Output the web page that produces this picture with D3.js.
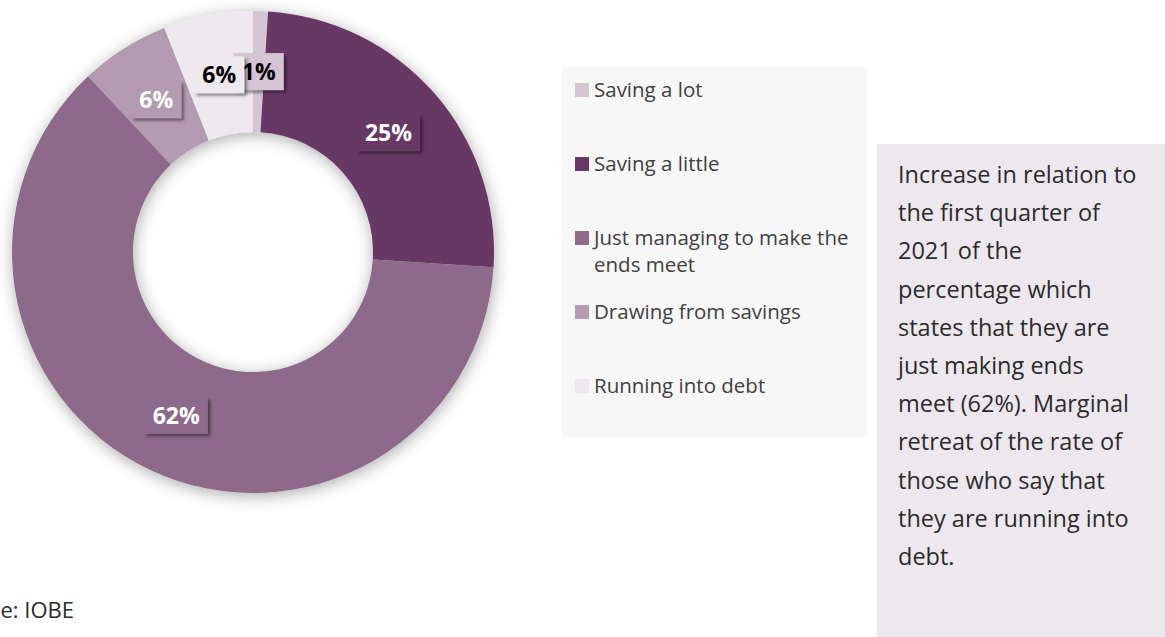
<!DOCTYPE html>
<html>
<head>
<meta charset="utf-8">
<script src="https://cdn.jsdelivr.net/npm/d3@7"></script>
<style>
  html, body { margin: 0; padding: 0; background: #ffffff; }
  svg { display: block; }
</style>
</head>
<body>
<svg id="chart" width="1165" height="637"></svg>
<script>
// ---- data ----
const categories = ["Saving a lot", "Saving a little", "Just managing to make the ends meet", "Drawing from savings", "Running into debt"];
const values = [1, 25, 62, 6, 6];
const colors = ["#d4c4d4", "#683965", "#8d6b89", "#b39bb1", "#eee8ef"];
const labelColors = ["#000000", "#ffffff", "#ffffff", "#ffffff", "#000000"];
const noteLines = [
  "Increase in relation to",
  "the first quarter of",
  "2021 of the",
  "percentage which",
  "states that they are",
  "just making ends",
  "meet (62%). Marginal",
  "retreat of the rate of",
  "those who say that",
  "they are running into",
  "debt."
];
const sourceText = "Source: IOBE";

const svg = d3.select("#chart");
const defs = svg.append("defs");

const ringShadow = defs.append("filter").attr("id", "ringShadow")
  .attr("x", "-20%").attr("y", "-20%").attr("width", "140%").attr("height", "140%");
ringShadow.append("feDropShadow").attr("dx", 1).attr("dy", 3)
  .attr("stdDeviation", 8).attr("flood-color", "#000").attr("flood-opacity", 0.33);

const boxShadow = defs.append("filter").attr("id", "boxShadow")
  .attr("x", "-30%").attr("y", "-30%").attr("width", "160%").attr("height", "160%");
boxShadow.append("feDropShadow").attr("dx", 2.5).attr("dy", 2.5)
  .attr("stdDeviation", 1.5).attr("flood-color", "#000").attr("flood-opacity", 0.45);

// ---- donut ----
const cx = 253, cy = 252, R = 241, r = 120;
const pie = d3.pie().sort(null).value(d => d)(values);
const arc = d3.arc().innerRadius(r).outerRadius(R);
const labelArc = d3.arc().innerRadius(r).outerRadius(R);

const g = svg.append("g").attr("transform", `translate(${cx},${cy})`);
const ring = g.append("g").attr("filter", "url(#ringShadow)");
ring.selectAll("path").data(pie).join("path")
  .attr("d", arc)
  .attr("fill", (d, i) => colors[i]);

const labels = g.append("g");
pie.forEach((d, i) => {
  const [lx, ly] = labelArc.centroid(d);
  const lg = labels.append("g").attr("transform", `translate(${lx},${ly})`);
  const rect = lg.append("rect").attr("fill", colors[i]).attr("filter", "url(#boxShadow)");
  const t = lg.append("text")
    .attr("text-anchor", "middle")
    .attr("dy", "0.36em")
    .style("font-family", "'Open Sans', sans-serif")
    .style("font-weight", "bold")
    .style("font-size", "23px")
    .attr("fill", labelColors[i])
    .text(d3.format(".0%")(values[i] / 100));
  const bb = t.node().getBBox();
  rect.attr("x", -bb.width / 2 - 8).attr("y", -18.5).attr("width", bb.width + 16).attr("height", 37);
});

// ---- legend ----
const legend = svg.append("g");
legend.append("rect").attr("x", 562).attr("y", 67).attr("width", 305).attr("height", 370).attr("fill", "#f7f7f7");
const legendY = d3.scaleLinear().domain([0, 1]).range([97, 171]);
const maxW = 255;
categories.forEach((c, i) => {
  const y = legendY(i);
  legend.append("rect").attr("x", 575).attr("y", y - 14).attr("width", 14).attr("height", 14).attr("fill", colors[i]);
  const t = legend.append("text").attr("x", 594).attr("y", y)
    .style("font-family", "'Open Sans', sans-serif").style("font-size", "20.5px").attr("fill", "#404040");
  const words = c.split(" ");
  let line = [], lineNo = 0;
  let ts = t.append("tspan").attr("x", 594).attr("y", y);
  words.forEach(w => {
    line.push(w);
    ts.text(line.join(" "));
    if (ts.node().getComputedTextLength() > maxW && line.length > 1) {
      line.pop();
      ts.text(line.join(" "));
      line = [w];
      lineNo++;
      ts = t.append("tspan").attr("x", 594).attr("y", y + lineNo * 27).text(w);
    }
  });
});

// ---- note box ----
svg.append("rect").attr("x", 877).attr("y", 144).attr("width", 288).attr("height", 493).attr("fill", "#ede8ee");
const note = svg.append("text")
  .style("font-family", "'Open Sans', sans-serif").style("font-size", "23.5px").attr("fill", "#2b2b2b");
noteLines.forEach((l, i) => {
  note.append("tspan").attr("x", 898).attr("y", 183 + i * 38.2).text(l);
});

// ---- source (cut off at the left edge, as in the reference) ----
svg.append("text").attr("x", 74).attr("y", 618).attr("text-anchor", "end")
  .style("font-family", "'Open Sans', sans-serif").style("font-size", "22px").attr("fill", "#2b2b2b")
  .text(sourceText);
</script>
</body>
</html>
